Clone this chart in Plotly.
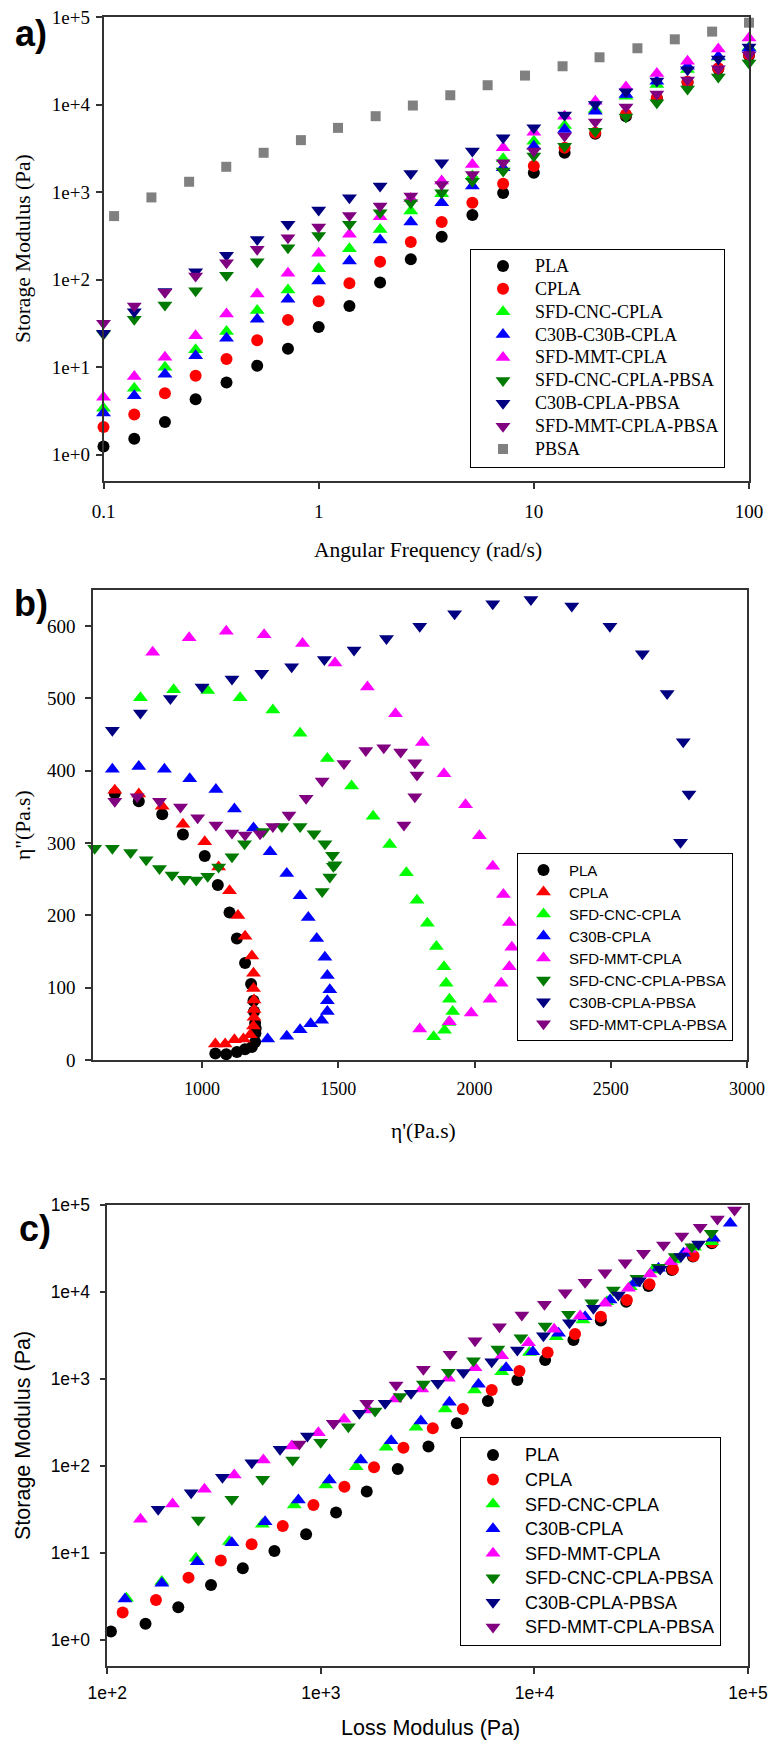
import plotly.graph_objects as go

W, H = 769, 1744

# ---------------- Panel a data: storage modulus vs angular frequency ----------------
freq = [0.1, 0.139, 0.193, 0.268, 0.373, 0.518, 0.72, 1.0, 1.39, 1.93, 2.68, 3.73,
        5.18, 7.2, 10.0, 13.9, 19.3, 26.8, 37.3, 51.8, 72.0, 100.0]
freq_pbsa = [0.112, 0.167, 0.25, 0.372, 0.555, 0.827, 1.23, 1.84, 2.74, 4.09, 6.1, 9.1,
             13.6, 20.2, 30.3, 45.2, 67.4, 100.0]

a_pla = [1.24, 1.52, 2.36, 4.3, 6.7, 10.4, 16.2, 28.8, 50, 92.5, 171, 309, 547, 975,
         1664, 2812, 4624, 7360, 11700, 17900, 25500, 36300]
a_cpla = [2.07, 2.88, 5.05, 7.96, 12.4, 20.3, 34.7, 56.6, 90.7, 160, 269, 455, 755, 1245,
          1981, 3206, 4750, 7690, 11900, 18200, 25900, 37200]
a_sfd_cnc = [3.4, 5.75, 10, 15.8, 25.5, 44.3, 76, 133, 226, 375, 607, 957, 1524, 2400,
             3820, 5750, 8770, 12450, 16900, 25100, 34700, 45000]
a_c30b = [2.99, 4.71, 8.3, 13.5, 21.4, 35.3, 59.7, 96.6, 163, 283, 455, 755, 1170, 1895,
          3350, 5190, 8390, 13000, 18450, 27370, 35500, 44000]
a_sfd_mmt = [4.55, 7.83, 13, 22.8, 40.6, 68.7, 118, 200, 329, 524, 847, 1335, 2070, 3206,
             4830, 7360, 10900, 15900, 22600, 31200, 43200, 57500]
a_sfd_cnc_pbsa = [24, 35.3, 51.4, 74.8, 112, 160, 232, 320, 428, 581, 755, 982, 1333, 1738,
                  2576, 3350, 4970, 7230, 10500, 15100, 20700, 29900]
a_c30b_pbsa = [24.4, 43.1, 73, 123, 190, 288, 428, 624, 861, 1170, 1633, 2163, 2940, 4170,
               5420, 7600, 10000, 14000, 18600, 25000, 33200, 45500]
a_sfd_mmt_pbsa = [31.8, 50, 71.6, 110, 156, 222, 301, 399, 542, 692, 900, 1222, 1585, 2160,
                  2940, 4370, 6300, 9400, 13200, 19100, 25600, 36900]
a_pbsa = [532, 869, 1312, 1945, 2812, 3920, 5416, 7360, 9746, 12770, 16620, 21430, 27370,
          34660, 43950, 55590, 68100, 86100]

# ---------------- Panel b data: Cole-Cole (eta'' vs eta') ----------------
b_pla_x = [680, 768, 854, 930, 1010, 1058, 1101, 1128, 1158, 1180, 1189, 1191, 1195, 1197,
           1196, 1195, 1183, 1158, 1128, 1089, 1049]
b_pla_y = [369, 358, 340, 312, 282, 242, 204, 168, 134, 105, 82, 67, 51, 44, 37, 25, 18,
           15, 11, 8, 9]
b_cpla_x = [680, 768, 854, 930, 1010, 1061, 1101, 1132, 1158, 1183, 1189, 1189, 1191, 1191,
            1191, 1189, 1177, 1152, 1119, 1085, 1049]
b_cpla_y = [373, 368, 351, 326, 302, 267, 234, 200, 171, 144, 120, 99, 83, 70, 59, 47, 35,
            29, 28, 22, 22]
b_sfd_cnc_x = [774, 896, 1021, 1140, 1260, 1360, 1460, 1549, 1628, 1689, 1750, 1789, 1827,
               1860, 1888, 1896, 1908, 1920, 1905, 1890, 1850]
b_sfd_cnc_y = [501, 512, 511, 501, 484, 452, 417, 379, 337, 298, 259, 221, 189, 157, 129,
               106, 84, 67, 52, 41, 32]
b_c30b_x = [671, 768, 862, 955, 1051, 1119, 1189, 1250, 1311, 1360, 1390, 1421, 1451, 1460,
            1469, 1460, 1460, 1439, 1399, 1360, 1311, 1241]
b_c30b_y = [402, 406, 402, 389, 374, 347, 321, 288, 258, 227, 197, 168, 142, 117, 97, 82,
            67, 55, 50, 42, 33, 29]
b_sfd_mmt_x = [819, 953, 1089, 1228, 1369, 1488, 1607, 1710, 1809, 1888, 1967, 2018, 2067,
               2106, 2128, 2137, 2128, 2098, 2057, 1988, 1908, 1799]
b_sfd_mmt_y = [564, 584, 593, 588, 576, 549, 516, 479, 439, 396, 353, 310, 268, 229, 190,
               156, 129, 106, 84, 65, 53, 43]
b_sfd_cnc_pbsa_x = [606, 671, 738, 795, 844, 890, 935, 979, 1021, 1061, 1110, 1156, 1225,
                    1293, 1360, 1411, 1451, 1479, 1488, 1482, 1469, 1441]
b_sfd_cnc_pbsa_y = [293, 293, 287, 277, 265, 256, 250, 249, 254, 267, 281, 299, 316, 323,
                    323, 313, 299, 283, 270, 268, 253, 233]
b_c30b_pbsa_x = [671, 774, 884, 1000, 1110, 1219, 1329, 1449, 1558, 1677, 1799, 1927, 2067,
                 2207, 2357, 2497, 2616, 2707, 2766, 2787, 2756, 2687]
b_c30b_pbsa_y = [456, 480, 500, 516, 527, 535, 544, 554, 567, 583, 600, 617, 631, 637, 628,
                 600, 562, 507, 440, 368, 301, 244]
b_sfd_mmt_pbsa_x = [680, 762, 844, 921, 984, 1051, 1110, 1158, 1213, 1260, 1319, 1382, 1441,
                    1521, 1601, 1667, 1729, 1781, 1789, 1781, 1741]
b_sfd_mmt_pbsa_y = [358, 364, 358, 350, 335, 325, 314, 311, 313, 323, 339, 362, 386, 410,
                    428, 432, 426, 411, 394, 364, 325]

# ---------------- Panel c data: storage modulus vs loss modulus ----------------
c_pla_x = [104, 151, 215, 306, 431, 606, 853, 1178, 1640, 2291, 3190, 4333, 6054, 8318,
           11220, 15230, 20460, 26900, 34200, 44000, 55200, 67700]
c_pla_y = [1.25, 1.53, 2.38, 4.29, 6.67, 10.5, 16.4, 29.1, 50.7, 92.4, 167, 309, 559, 975,
           1652, 2806, 4690, 7740, 11720, 17900, 25500, 36300]
c_cpla_x = [118, 169, 240, 340, 474, 663, 923, 1289, 1774, 2436, 3342, 4624, 6310, 8510,
            11530, 15500, 20460, 27100, 34600, 44500, 55600, 68200]
c_cpla_y = [2.06, 2.88, 5.2, 8.16, 12.6, 20.4, 35.6, 57.8, 96.6, 162, 271, 452, 748, 1236,
            2009, 3290, 5200, 8090, 12250, 18240, 25900, 37200]
c_sfd_cnc_x = [123, 180, 260, 373, 532, 751, 1054, 1463, 2020, 2790, 3820, 5240, 7030, 9480,
               12650, 16870, 21830, 28100, 35900, 44800, 56200, 67700]
c_sfd_cnc_y = [3.01, 4.68, 8.7, 13.5, 21.4, 35.6, 60.5, 98, 164, 279, 452, 748, 1213, 2010,
               3060, 4770, 7740, 11500, 17900, 23300, 32700, 37800]
c_c30b_x = [121, 180, 264, 383, 548, 785, 1097, 1538, 2133, 2939, 3998, 5470, 7370, 9830,
            12970, 17270, 22600, 29300, 38100, 49900, 68900, 82600]
c_c30b_y = [2.95, 4.48, 7.94, 13.1, 22.9, 40.6, 69, 117, 195, 329, 540, 869, 1349, 2060,
            3350, 5200, 8090, 12590, 18700, 27900, 41400, 61600]
c_sfd_mmt_x = [143, 202, 285, 393, 538, 731, 973, 1284, 1671, 2225, 2970, 3955, 5270, 7030,
               9380, 12370, 16370, 21400, 27560, 34800, 43500, 53200]
c_sfd_mmt_y = [24.4, 36.6, 54, 78.8, 117, 170, 241, 344, 440, 589, 767, 1018, 1349, 1853,
               2612, 3724, 5300, 7410, 11020, 16100, 22300, 31000]
c_sfd_cnc_pbsa_x = [267, 383, 534, 738, 998, 1345, 1794, 2350, 3020, 3955, 5180, 6740, 8640,
                    11220, 14430, 18560, 23400, 30200, 38100, 45600, 54600, 67300]
c_sfd_cnc_pbsa_y = [23.9, 41.4, 70.3, 117, 187, 283, 429, 627, 877, 1194, 1623, 2213, 2985,
                    4065, 5540, 7530, 10540, 14370, 19200, 25500, 33200, 47200]
c_c30b_pbsa_x = [173, 247, 346, 475, 644, 865, 1146, 1515, 1999, 2644, 3531, 4650, 6310, 8318,
                 11020, 14590, 18890, 24700, 31000, 38800, 48500, 58700]
c_c30b_pbsa_y = [31.8, 49.3, 74.1, 109, 156, 221, 309, 403, 525, 684, 891, 1183, 1582, 2155,
                 3144, 4437, 6490, 9240, 13490, 18370, 25500, 35600]
c_sfd_mmt_pbsa_x = [793, 1146, 1640, 2250, 3020, 4029, 5270, 6860, 8730, 11140, 13930, 17270,
                    21400, 26600, 32400, 40200, 49000, 59700, 71900, 86500]
c_sfd_mmt_pbsa_y = [179, 309, 525, 853, 1291, 1923, 2754, 3996, 5445, 7220, 9820, 12920,
                    16670, 21730, 27800, 34700, 44000, 55400, 69000, 87700]

# ---------------- styles ----------------
BLACK, RED, LIME, BLUE = "#000000", "#ff0000", "#00ff00", "#0000ff"
MAG, DGREEN, NAVY, PURPLE, GRAY = "#ff00ff", "#007a00", "#000080", "#800080", "#808080"

SERIF = "Liberation Serif"
SANS = "Liberation Sans"
TRI = 13


def px_x(p):
    return p / W


def px_y(p):
    return 1 - p / H


def lbl(text, size, family):
    return f'<span style="font-size:{size}px;font-family:{family}">{text}</span>'


fig = go.Figure()


def add(x, y, name, color, symbol, size, axis_suffix, legend):
    fig.add_trace(go.Scatter(
        x=x, y=y, mode="markers", name=name,
        marker=dict(color=color, symbol=symbol, size=size, line=dict(width=0)),
        xaxis="x" + axis_suffix, yaxis="y" + axis_suffix, legend=legend,
        cliponaxis=False, hoverinfo="x+y"))


# Panel a
la = lambda t: lbl(t, 18, SERIF)
add(freq, a_pla, la("PLA"), BLACK, "circle", 12, "", "legend")
add(freq, a_cpla, la("CPLA"), RED, "circle", 12, "", "legend")
add(freq, a_sfd_cnc, la("SFD-CNC-CPLA"), LIME, "triangle-up", TRI, "", "legend")
add(freq, a_c30b, la("C30B-C30B-CPLA"), BLUE, "triangle-up", TRI, "", "legend")
add(freq, a_sfd_mmt, la("SFD-MMT-CPLA"), MAG, "triangle-up", TRI, "", "legend")
add(freq, a_sfd_cnc_pbsa, la("SFD-CNC-CPLA-PBSA"), DGREEN, "triangle-down", TRI, "", "legend")
add(freq, a_c30b_pbsa, la("C30B-CPLA-PBSA"), NAVY, "triangle-down", TRI, "", "legend")
add(freq, a_sfd_mmt_pbsa, la("SFD-MMT-CPLA-PBSA"), PURPLE, "triangle-down", TRI, "", "legend")
add(freq_pbsa, a_pbsa, la("PBSA"), GRAY, "square", 10, "", "legend")

# Panel b
lb = lambda t: lbl(t, 15, SANS)
add(b_pla_x, b_pla_y, lb("PLA"), BLACK, "circle", 12, "2", "legend2")
add(b_cpla_x, b_cpla_y, lb("CPLA"), RED, "triangle-up", TRI, "2", "legend2")
add(b_sfd_cnc_x, b_sfd_cnc_y, lb("SFD-CNC-CPLA"), LIME, "triangle-up", TRI, "2", "legend2")
add(b_c30b_x, b_c30b_y, lb("C30B-CPLA"), BLUE, "triangle-up", TRI, "2", "legend2")
add(b_sfd_mmt_x, b_sfd_mmt_y, lb("SFD-MMT-CPLA"), MAG, "triangle-up", TRI, "2", "legend2")
add(b_sfd_cnc_pbsa_x, b_sfd_cnc_pbsa_y, lb("SFD-CNC-CPLA-PBSA"), DGREEN, "triangle-down", TRI, "2", "legend2")
add(b_c30b_pbsa_x, b_c30b_pbsa_y, lb("C30B-CPLA-PBSA"), NAVY, "triangle-down", TRI, "2", "legend2")
add(b_sfd_mmt_pbsa_x, b_sfd_mmt_pbsa_y, lb("SFD-MMT-CPLA-PBSA"), PURPLE, "triangle-down", TRI, "2", "legend2")

# Panel c
lc = lambda t: lbl(t, 18, SANS)
add(c_pla_x, c_pla_y, lc("PLA"), BLACK, "circle", 12, "3", "legend3")
add(c_cpla_x, c_cpla_y, lc("CPLA"), RED, "circle", 12, "3", "legend3")
add(c_sfd_cnc_x, c_sfd_cnc_y, lc("SFD-CNC-CPLA"), LIME, "triangle-up", TRI, "3", "legend3")
add(c_c30b_x, c_c30b_y, lc("C30B-CPLA"), BLUE, "triangle-up", TRI, "3", "legend3")
add(c_sfd_mmt_x, c_sfd_mmt_y, lc("SFD-MMT-CPLA"), MAG, "triangle-up", TRI, "3", "legend3")
add(c_sfd_cnc_pbsa_x, c_sfd_cnc_pbsa_y, lc("SFD-CNC-CPLA-PBSA"), DGREEN, "triangle-down", TRI, "3", "legend3")
add(c_c30b_pbsa_x, c_c30b_pbsa_y, lc("C30B-CPLA-PBSA"), NAVY, "triangle-down", TRI, "3", "legend3")
add(c_sfd_mmt_pbsa_x, c_sfd_mmt_pbsa_y, lc("SFD-MMT-CPLA-PBSA"), PURPLE, "triangle-down", TRI, "3", "legend3")


def axis(**kw):
    base = dict(showline=True, linecolor="#333333", linewidth=1.5, mirror=True,
                ticks="outside", ticklen=6, tickwidth=1.5, tickcolor="#333333",
                showgrid=False, zeroline=False, automargin=False)
    base.update(kw)
    return base


dec_vals = [1, 10, 100, 1000, 10000, 100000]
dec_text = ["1e+0", "1e+1", "1e+2", "1e+3", "1e+4", "1e+5"]

fig.update_layout(
    width=W, height=H, margin=dict(l=0, r=0, t=0, b=0, autoexpand=False),
    paper_bgcolor="white", plot_bgcolor="white",
    xaxis=axis(domain=[px_x(103.5), px_x(749)], type="log", range=[-1, 2], anchor="y",
               tickvals=[0.1, 1, 10, 100], ticktext=["0.1", "1", "10", "100"],
               tickfont=dict(family=SERIF, size=19, color="black"), ticklabelstandoff=6),
    yaxis=axis(domain=[px_y(481), px_y(17)], type="log", range=[-0.3, 5], anchor="x",
               tickvals=dec_vals, ticktext=dec_text,
               tickfont=dict(family=SERIF, size=19, color="black"), ticklabelstandoff=2),
    xaxis2=axis(domain=[px_x(93), px_x(747)], range=[600, 3000], anchor="y2",
                tickvals=[1000, 1500, 2000, 2500, 3000],
                tickfont=dict(family=SERIF, size=18, color="black"), ticklabelstandoff=6),
    yaxis2=axis(domain=[px_y(1060), px_y(590)], range=[0, 650], anchor="x2",
                tickvals=[0, 100, 200, 300, 400, 500, 600],
                tickfont=dict(family=SERIF, size=19, color="black"), ticklabelstandoff=6),
    xaxis3=axis(domain=[px_x(107.3), px_x(748)], type="log", range=[2, 5], anchor="y3",
                tickvals=[100, 1000, 10000, 100000], ticktext=["1e+2", "1e+3", "1e+4", "1e+5"],
                tickfont=dict(family=SANS, size=17.5, color="black"), ticklabelstandoff=4),
    yaxis3=axis(domain=[px_y(1666), px_y(1205)], type="log", range=[-0.3, 5], anchor="x3",
                tickvals=dec_vals, ticktext=dec_text,
                tickfont=dict(family=SANS, size=17.5, color="black"), ticklabelstandoff=6),
    legend=dict(x=px_x(470), y=px_y(248.5), xanchor="left", yanchor="top",
                bgcolor="white", bordercolor="black", borderwidth=1,
                font=dict(family=SERIF, size=15.3, color="black"), itemwidth=54,
                tracegroupgap=0),
    legend2=dict(x=px_x(517), y=px_y(853), xanchor="left", yanchor="top",
                 bgcolor="white", bordercolor="black", borderwidth=1,
                 font=dict(family=SANS, size=14.6, color="black"), itemwidth=41,
                 tracegroupgap=0),
    legend3=dict(x=px_x(460), y=px_y(1436.6), xanchor="left", yanchor="top",
                 bgcolor="white", bordercolor="black", borderwidth=1,
                 font=dict(family=SANS, size=16.6, color="black"), itemwidth=54,
                 tracegroupgap=0),
    showlegend=True,
)


def note(text, x, y, size, family, angle=0, bold=False):
    if bold:
        text = f"<b>{text}</b>"
    fig.add_annotation(text=text, x=px_x(x), y=px_y(y), xref="paper", yref="paper",
                       showarrow=False, xanchor="center", yanchor="middle", textangle=angle,
                       font=dict(family=family, size=size, color="black"))


# panel labels
note("a)", 31, 34, 36, SANS, bold=True)
note("b)", 31, 603, 36, SANS, bold=True)
note("c)", 35, 1228, 36, SANS, bold=True)

# axis titles
note("Angular Frequency (rad/s)", 428, 550, 21.5, SERIF)
note("Storage Modulus (Pa)", 23, 249, 21.5, SERIF, angle=-90)
note("η'(Pa.s)", 423, 1131, 21.5, SERIF)
note('η"(Pa.s)', 23, 825, 21.5, SERIF, angle=-90)
note("Loss Modulus (Pa)", 430, 1728, 21.5, SANS)
note("Storage Modulus (Pa)", 23, 1436, 21.5, SANS, angle=-90)

fig.write_html(
    "out.html",
    config={"displayModeBar": False},
    post_script="document.body.style.margin='0px';"
                "document.documentElement.style.overflow='hidden';",
)
